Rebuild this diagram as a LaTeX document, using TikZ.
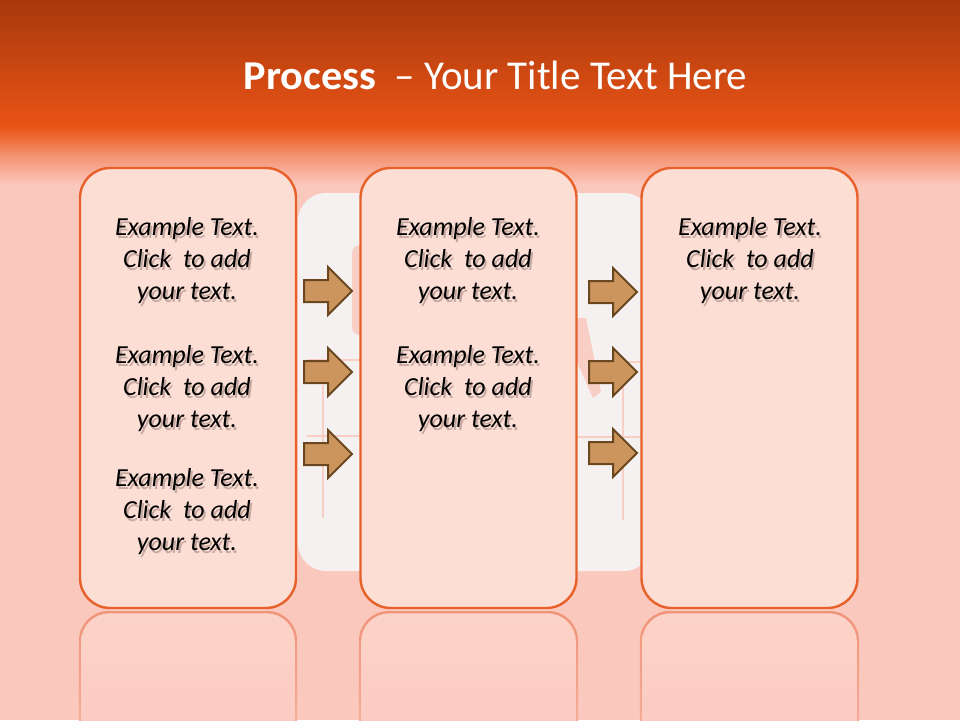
\documentclass[tikz,border=0pt]{standalone}
\usepackage{fontspec}
\setmainfont{Carlito}
\definecolor{bgpink}{HTML}{FBC8BD}
\definecolor{hdrtop}{HTML}{A8380C}
\definecolor{hdrmid}{HTML}{EA5416}
\definecolor{boxfill}{HTML}{FCDED4}
\definecolor{boxline}{HTML}{E8602A}
\definecolor{wmfill}{HTML}{F5F1F1}
\definecolor{wmpink}{HTML}{F8CEC5}
\definecolor{arrfill}{HTML}{CC955E}
\definecolor{arrline}{HTML}{6B4720}
\definecolor{shadowc}{HTML}{8F7670}
\definecolor{reflline}{HTML}{F09478}
\definecolor{reflfill}{HTML}{FCD3C8}
\tikzset{
  procbox/.style={draw=boxline, line width=2.4pt, fill=boxfill, rounded corners=30pt, minimum width=216pt, minimum height=440pt, inner sep=0pt},
  txt/.style={align=center, font=\itshape\fontsize{26}{32}\selectfont, text=black, inner sep=0pt},
  txtsh/.style={txt, text=shadowc, opacity=0.5},
  titletxt/.style={font=\fontsize{41}{44}\selectfont, text=white, inner sep=0pt},
  arrowstyle/.style={draw=arrline, fill=arrfill, line width=2pt, line join=miter},
  flowarrow/.pic={\draw[arrowstyle] (-24,-11) -- (0,-11) -- (0,-24) -- (24,0) -- (0,24) -- (0,11) -- (-24,11) -- cycle;},
  wmline/.style={draw=wmpink, line width=2.5pt}
}
\newcommand{\exblock}[3]{%
  \node[txtsh] at ({#2+2},{#3+3}) {Example Text.\\Click~~to add\\your text.};
  \node[txt] (#1) at (#2,#3) {Example Text.\\Click~~to add\\your text.};}
\begin{document}
\begin{tikzpicture}[x=1pt,y=-1pt]
\useasboundingbox (0,0) rectangle (960,720);
\clip (0,0) rectangle (960,720);
% background and header
\fill[bgpink] (0,0) rectangle (960,720);
\shade[top color=hdrtop, bottom color=hdrmid] (0,0) rectangle (960,128);
\shade[top color=hdrmid, bottom color=bgpink, middle color=hdrmid!45!bgpink] (0,127.5) rectangle (960,185);
\node[titletxt] (title) at (495.5,75) {\scalebox{1.03}[1]{\textbf{Process}}\ \ -- Your Title Text Here};
% watermark
\fill[wmfill, rounded corners=28pt] (298,193) rectangle (652,571);
\fill[wmpink, rounded corners=8pt] (352,245) rectangle (385,335);
\draw[wmline] (307,360) -- (360,360);
\draw[wmline] (307,436) -- (360,436);
\draw[wmline] (323,385) -- (323,518);
\draw[wmline] (577,362) -- (645,362);
\draw[wmline] (577,437) -- (645,437);
\draw[wmline] (623,365) -- (623,520);
\fill[wmpink] (577,318) -- (586,318) -- (601,392) -- (593,398) -- (577,362) -- cycle;
% reflections
\foreach \xa/\xb in {80/296, 360/577, 641/858}{
  \shade[top color=reflline, bottom color=reflline!30!bgpink, rounded corners=30pt] (\xa-1.2,780) -- (\xa-1.2,611) -- (\xb+1.2,611) -- (\xb+1.2,780) -- cycle;
  \shade[top color=reflfill, bottom color=bgpink, rounded corners=28pt] (\xa+1.2,780) -- (\xa+1.2,613.4) -- (\xb-1.2,613.4) -- (\xb-1.2,780) -- cycle;
}
% boxes
\node[procbox] (b1) at (188,388) {};
\node[procbox] (b2) at (468.5,388) {};
\node[procbox] (b3) at (749.5,388) {};
% arrows
\pic at (328,291) {flowarrow};
\pic at (328,372) {flowarrow};
\pic at (328,454) {flowarrow};
\pic at (613,292) {flowarrow};
\pic at (613,372) {flowarrow};
\pic at (613,453) {flowarrow};
% texts
\exblock{t11}{187}{261}
\exblock{t12}{187}{389}
\exblock{t13}{187}{512}
\exblock{t21}{468}{261}
\exblock{t22}{468}{389}
\exblock{t31}{750}{261}
\end{tikzpicture}
\end{document}
